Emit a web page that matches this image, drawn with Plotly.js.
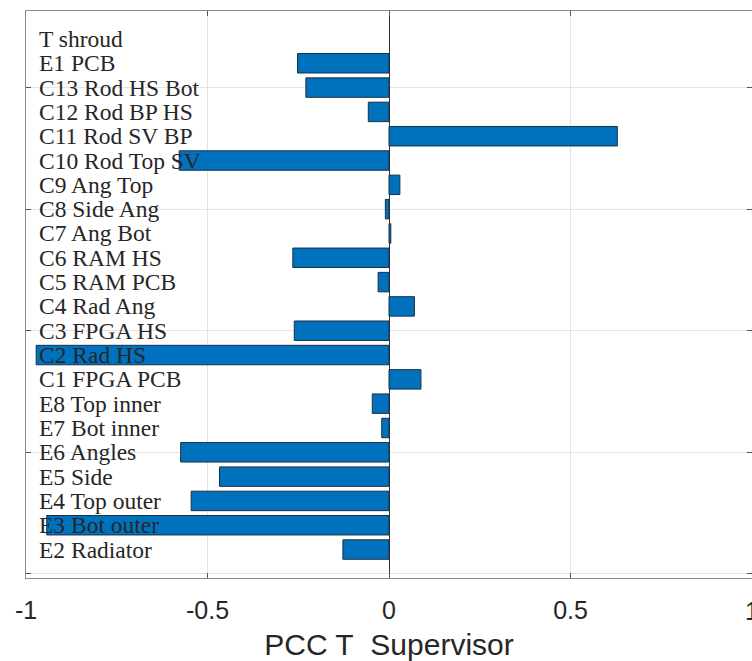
<!DOCTYPE html>
<html>
<head>
<meta charset="utf-8">
<script src="https://cdn.plot.ly/plotly-3.0.1.min.js"></script>
<style>
html,body{margin:0;padding:0;background:#fff;}
#chart{width:752px;height:661px;}
</style>
</head>
<body>
<div id="chart"></div>
<script>
// Categories listed top to bottom
const categories = ["T shroud","E1 PCB","C13 Rod HS Bot","C12 Rod BP HS","C11 Rod SV BP","C10 Rod Top SV",
  "C9 Ang Top","C8 Side Ang","C7 Ang Bot","C6 RAM HS","C5 RAM PCB","C4 Rad Ang","C3 FPGA HS","C2 Rad HS",
  "C1 FPGA PCB","E8 Top inner","E7 Bot inner","E6 Angles","E5 Side","E4 Top outer","E3 Bot outer","E2 Radiator"];
const pccValues = [null,-0.252,-0.229,-0.057,0.629,-0.578,
  0.030,-0.010,0.005,-0.265,-0.030,0.070,-0.261,-0.972,
  0.088,-0.046,-0.020,-0.574,-0.467,-0.545,-0.943,-0.127];
const xTickVals = [-1,-0.5,0,0.5,1];
const xTickText = ["-1","-0.5","0","0.5","1"];
const yTickVals = [0,5,10,15,20];
const xTitle = "PCC T\u00a0\u00a0Supervisor";

const n = categories.length;
const positions = categories.map((c,i)=> n - i);

const trace = {
  type:'bar', orientation:'h',
  x: pccValues, y: positions,
  width: 0.8,
  marker:{color:'#0072BD', line:{color:'#1b2f45', width:1}},
  hoverinfo:'x'
};

const annotations = categories.map((c,i)=>({
  x:-0.97, y:positions[i], xref:'x', yref:'y',
  text:c, showarrow:false, xanchor:'left', yanchor:'middle',
  font:{family:'Liberation Serif, Times New Roman, serif', size:23.5, color:'#262626'}
}));
// last tick label, clipped by the right edge of the figure as in the reference
annotations.push({
  x:xTickVals[4], y:0, xref:'x', yref:'paper', yshift:-17,
  text:xTickText[4], showarrow:false, xanchor:'center', yanchor:'top',
  font:{family:'Liberation Sans, Arial, sans-serif', size:25, color:'#262626'}
});

const layout = {
  width:752, height:661,
  margin:{l:26, r:0, t:11, b:83, pad:0},
  paper_bgcolor:'#fff', plot_bgcolor:'#fff',
  showlegend:false,
  bargap:0,
  xaxis:{
    range:[-1,1], tickvals:xTickVals.slice(0,4), ticktext:xTickText.slice(0,4),
    ticks:'inside', ticklen:5, tickcolor:'#555', tickwidth:1,
    showline:true, linecolor:'#8a8a8a', linewidth:1.2, mirror:'ticks',
    showgrid:true, gridcolor:'#e3e3e3', gridwidth:1,
    zeroline:true, zerolinecolor:'#333', zerolinewidth:1,
    tickfont:{family:'Liberation Sans, Arial, sans-serif', size:25, color:'#262626'},
    ticklabelstandoff:10,
    title:{text:xTitle, standoff:12, font:{family:'Liberation Sans, Arial, sans-serif', size:30, color:'#262626'}},
    fixedrange:true
  },
  yaxis:{
    range:[-0.17,23.15], tickvals:yTickVals, showticklabels:false,
    ticks:'inside', ticklen:5, tickcolor:'#555', tickwidth:1,
    showline:true, linecolor:'#8a8a8a', linewidth:1.2, mirror:'ticks',
    showgrid:true, gridcolor:'#e3e3e3', gridwidth:1,
    zeroline:false, fixedrange:true
  },
  annotations: annotations
};

Plotly.newPlot('chart',[trace],layout,{displayModeBar:false, staticPlot:true});
</script>
</body>
</html>
